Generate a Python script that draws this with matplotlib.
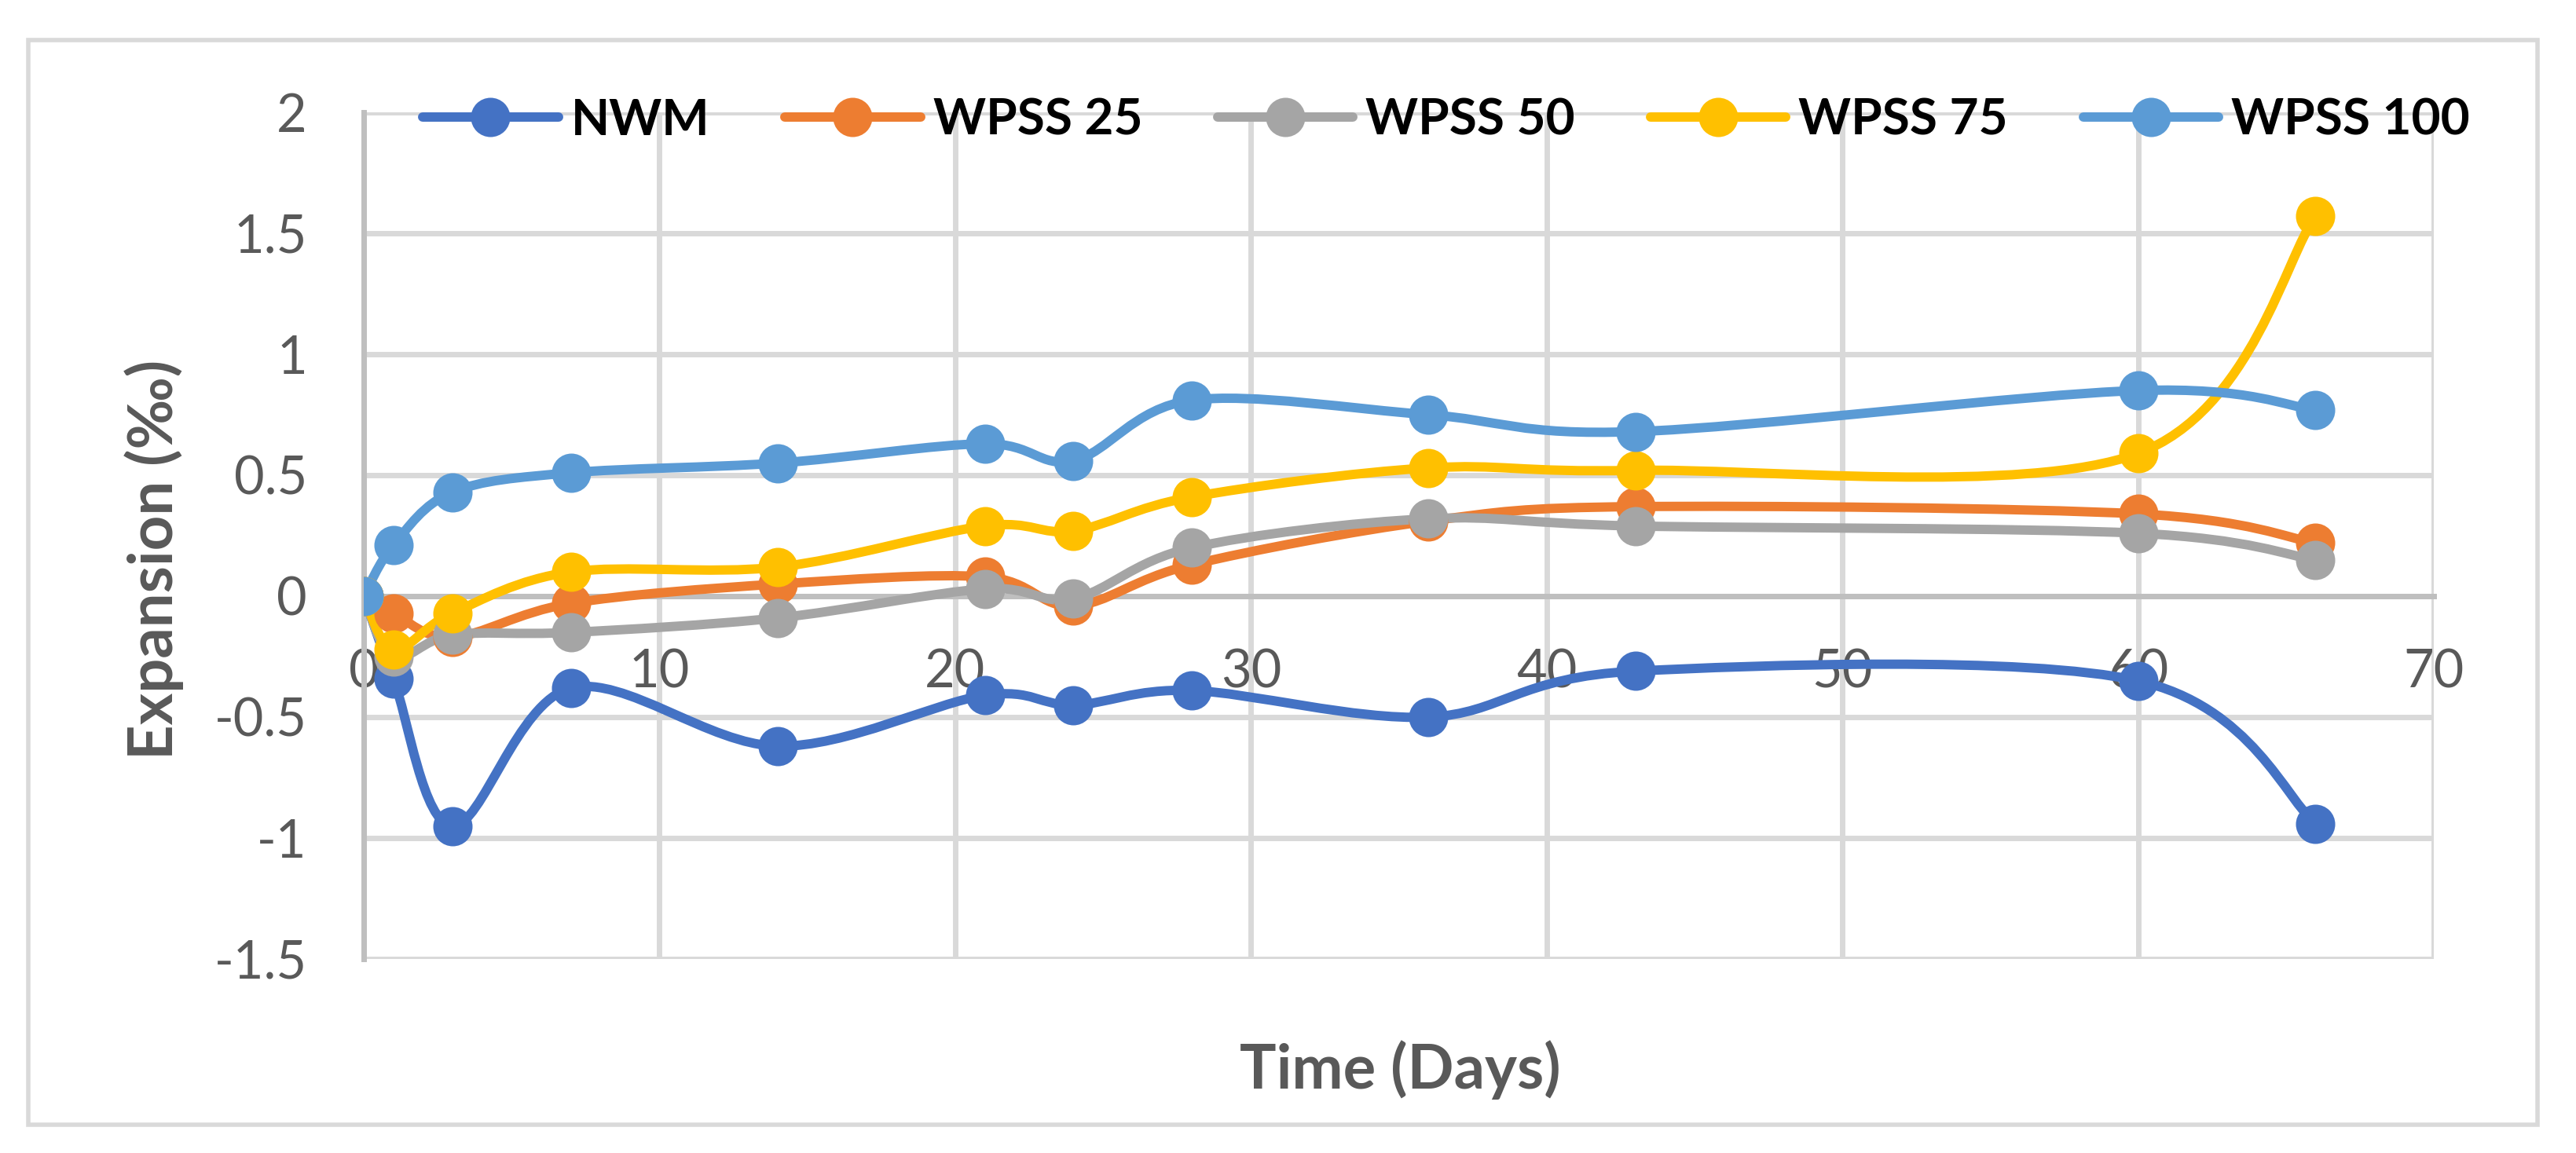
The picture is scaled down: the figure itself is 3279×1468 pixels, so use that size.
import numpy as np
import matplotlib
matplotlib.use("Agg")
import matplotlib.pyplot as plt
from matplotlib.path import Path
from matplotlib.patches import PathPatch, Rectangle
from matplotlib.lines import Line2D

plt.rcParams['font.family'] = ['Lato', 'DejaVu Sans']

# data
days = [0, 1, 3, 7, 14, 21, 24, 28, 36, 43, 60, 66]
nwm = [0, -0.34, -0.95, -0.38, -0.62, -0.41, -0.45, -0.39, -0.50, -0.31, -0.35, -0.94]
wpss25 = [0, -0.07, -0.17, -0.03, 0.05, 0.08, -0.04, 0.13, 0.31, 0.37, 0.34, 0.22]
wpss50 = [0, -0.25, -0.16, -0.15, -0.09, 0.03, -0.01, 0.20, 0.32, 0.29, 0.26, 0.15]
wpss75 = [0, -0.22, -0.07, 0.10, 0.12, 0.29, 0.27, 0.41, 0.53, 0.52, 0.59, 1.57]
wpss100 = [0, 0.21, 0.43, 0.51, 0.55, 0.63, 0.56, 0.81, 0.75, 0.68, 0.85, 0.77]

names = ["NWM", "WPSS 25", "WPSS 50", "WPSS 75", "WPSS 100"]
series = [nwm, wpss25, wpss50, wpss75, wpss100]
colors = ["#4472C4", "#ED7D31", "#A5A5A5", "#FFC000", "#5B9BD5"]

xticks = [0, 10, 20, 30, 40, 50, 60, 70]
yticks = [-1.5, -1, -0.5, 0, 0.5, 1, 1.5, 2]
ytick_labels = ["-1.5", "-1", "-0.5", "0", "0.5", "1", "1.5", "2"]


def smooth_path(x, y):
    # excel-like smoothed line: catmull-rom segments as cubic beziers
    p = np.column_stack([x, y]).astype(float)
    n = len(p)
    verts = [p[0]]
    codes = [Path.MOVETO]
    for i in range(n - 1):
        p0 = p[i - 1] if i > 0 else p[i]
        p3 = p[i + 2] if i + 2 < n else p[i + 1]
        c1 = p[i] + (p[i + 1] - p0) / 6
        c2 = p[i + 1] - (p3 - p[i]) / 6
        verts += [c1, c2, p[i + 1]]
        codes += [Path.CURVE4] * 3
    return Path(verts, codes)


W, H, DPI = 3279, 1468, 200
fig = plt.figure(figsize=(W / DPI, H / DPI), dpi=DPI)
ax = fig.add_axes([463 / W, 1 - 1221 / H, (3098 - 463) / W, (1221 - 143) / H])

lw = 4.3
ms = 17
for name, vals, c in zip(names, series, colors):
    ax.add_patch(PathPatch(smooth_path(days, vals), fc="none", ec=c, lw=lw,
                           capstyle="round", joinstyle="round", zorder=3))
    ax.plot(days, vals, "o", color=c, ms=ms, mec=c, zorder=4)

ax.set_xlim(0, 70)
ax.set_ylim(-1.5, 2)
ax.set_xticks(xticks)
ax.set_yticks(yticks)
ax.set_yticklabels(ytick_labels)
ax.grid(True, color="#D9D9D9", lw=2.5, zorder=0)
ax.set_axisbelow(True)

for s in ["top", "right"]:
    ax.spines[s].set_visible(False)
ax.spines["bottom"].set_position(("data", 0))
ax.spines["bottom"].set_color("#BFBFBF")
ax.spines["bottom"].set_linewidth(2.5)
ax.spines["left"].set_color("#BFBFBF")
ax.spines["left"].set_linewidth(2.5)
ax.tick_params(axis="x", length=0, pad=24, labelsize=24, labelcolor="#595959")
ax.tick_params(axis="y", length=0, pad=26, labelsize=24, labelcolor="#595959")

fig.text(196 / W, 1 - 712 / H, "Expansion (‰)", rotation=90, ha="center", va="center",
         fontsize=28, fontweight="bold", color="#595959")
fig.text(1782 / W, 1 - 1362 / H, "Time (Days)", ha="center", va="center",
         fontsize=28, fontweight="bold", color="#595959")

handles = [Line2D([], [], color=c, lw=lw, marker="o", ms=ms, solid_capstyle="round")
           for c in colors]
fig.legend(handles, names, loc="center", bbox_to_anchor=(1841 / W, 1 - 153 / H),
           ncol=5, frameon=False, handlelength=2.7, handletextpad=0.25,
           columnspacing=1.5, prop={"size": 23, "weight": "bold"})

fig.add_artist(Rectangle((36 / W, 1 - 1432 / H), (3230 - 36) / W, (1432 - 51) / H,
                         transform=fig.transFigure, fc="none", ec="#D9D9D9", lw=2))

fig.savefig("out.png", dpi=DPI)
